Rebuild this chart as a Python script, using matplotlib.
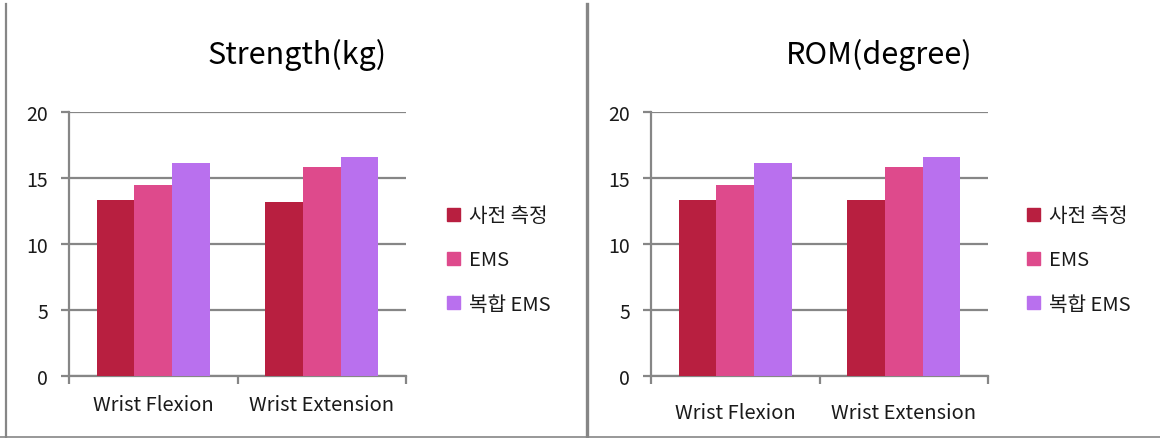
import matplotlib.pyplot as plt
from matplotlib.lines import Line2D
from matplotlib.patches import Patch
import numpy as np

plt.rcParams['font.family'] = ['Noto Sans CJK KR', 'DejaVu Sans']

categories = ['Wrist Flexion', 'Wrist Extension']
series_names = ['사전 측정', 'EMS', '복합 EMS']
colors = ['#B81F40', '#DE4A8C', '#B970EE']

strength = [
    [13.3, 13.2],   # 사전 측정
    [14.5, 15.8],   # EMS
    [16.1, 16.6],   # 복합 EMS
]
rom = [
    [13.3, 13.3],
    [14.5, 15.8],
    [16.1, 16.6],
]
yticks = [0, 5, 10, 15, 20]

W, H = 1160, 439
fig = plt.figure(figsize=(W / 100, H / 100), dpi=100)
grey = '#868686'


def panel(left_px, right_px, data, title, title_x, label_pad, legend_x):
    ax = fig.add_axes([left_px / W, (H - 377) / H, (right_px - left_px) / W, 264 / H])
    x = np.arange(len(categories))
    bw = 0.224
    for i, vals in enumerate(data):
        ax.bar(x + (i - 1) * bw, vals, width=bw, color=colors[i], zorder=3)
    ax.set_xlim(-0.5, 1.5)
    ax.set_ylim(0, 20)
    ax.set_yticks(yticks)
    ax.yaxis.grid(True, color=grey, linewidth=1.6, zorder=0)
    for s in ['top', 'right']:
        ax.spines[s].set_visible(False)
    for s in ['left', 'bottom']:
        ax.spines[s].set_color(grey)
        ax.spines[s].set_linewidth(1.6)
    ax.tick_params(axis='y', length=6, width=1.6, color=grey, pad=9,
                   labelsize=14, labelcolor='#1a1a1a')
    ax.set_xticks(x)
    ax.set_xticklabels(categories)
    ax.tick_params(axis='x', length=0, pad=label_pad, labelsize=14.5, labelcolor='#1a1a1a')
    ax.set_xticks([-0.5, 0.5, 1.5], minor=True)
    ax.tick_params(axis='x', which='minor', length=6, width=1.6, color=grey)
    fig.text(title_x / W, (H - 55) / H, title, ha='center', va='center', fontsize=22)
    handles = [Patch(color=c) for c in colors]
    leg = fig.legend(handles, series_names, loc='center left',
                     bbox_to_anchor=(legend_x / W, (H - 261) / H), frameon=False,
                     fontsize=14.5, handlelength=0.65, handleheight=0.65,
                     handletextpad=0.45, labelspacing=1.15, borderpad=0, borderaxespad=0)
    for t in leg.get_texts():
        t.set_color('#1a1a1a')
    return ax


panel(69, 406, strength, 'Strength(kg)', 297, 13, 447)
panel(651, 988, rom, 'ROM(degree)', 879, 19, 1027)

# outer frame lines
fig.add_artist(Line2D([6 / W, 6 / W], [0, (H - 5) / H], color=grey, linewidth=1.6))
fig.add_artist(Line2D([586.5 / W, 586.5 / W], [0, (H - 5) / H], color=grey, linewidth=2.4))
fig.add_artist(Line2D([0, 1], [1 / H, 1 / H], color=grey, linewidth=1.2))

fig.savefig('out.png', dpi=100)
